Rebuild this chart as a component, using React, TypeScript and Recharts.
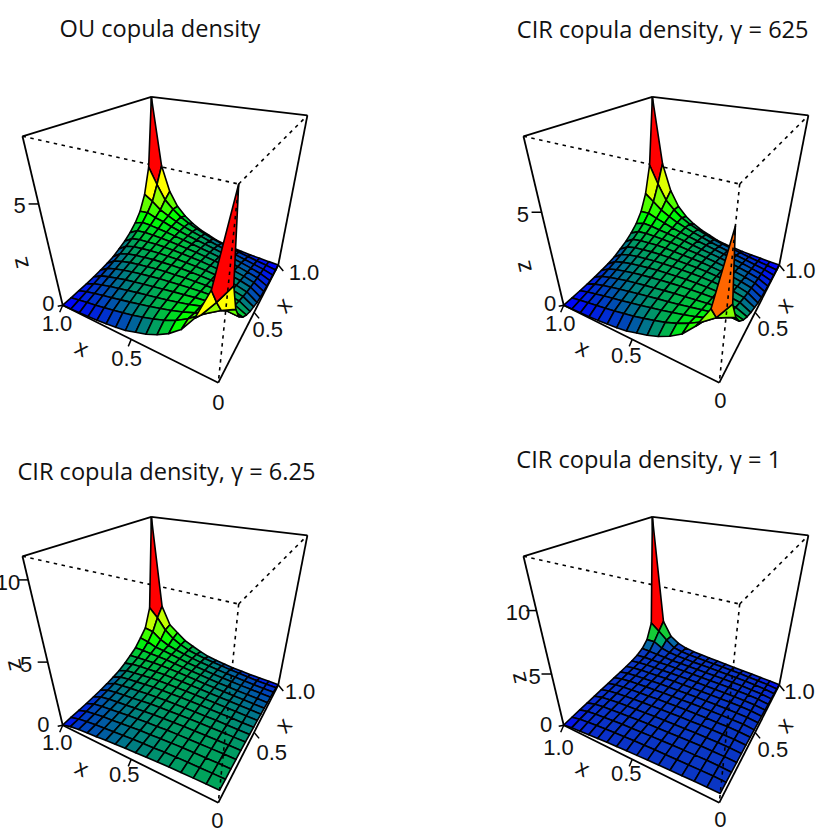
import { ScatterChart, Scatter, XAxis, YAxis } from 'recharts';

// surface heights, u index by row and v index by column
const ouZ = [
  [7.47, 4.00, 2.60, 1.80, 1.32, .98, .72, .54, .36, .26, .19, .13, .08, .05, .02, .00],
  [4.00, 3.10, 2.30, 1.85, 1.50, 1.25, 1.05, .88, .73, .61, .50, .40, .30, .21, .12, .02],
  [2.60, 2.30, 1.92, 1.68, 1.47, 1.30, 1.15, 1.02, .89, .77, .66, .55, .44, .33, .21, .05],
  [1.80, 1.85, 1.68, 1.58, 1.42, 1.30, 1.18, 1.08, .99, .89, .78, .68, .57, .44, .30, .08],
  [1.32, 1.50, 1.47, 1.42, 1.36, 1.28, 1.21, 1.13, 1.05, .97, .88, .79, .68, .55, .40, .13],
  [.98, 1.25, 1.30, 1.30, 1.28, 1.25, 1.21, 1.16, 1.11, 1.04, .97, .88, .78, .66, .50, .19],
  [.72, 1.05, 1.15, 1.18, 1.21, 1.21, 1.20, 1.17, 1.14, 1.10, 1.04, .97, .89, .77, .61, .26],
  [.54, .88, 1.02, 1.08, 1.13, 1.16, 1.17, 1.17, 1.16, 1.14, 1.11, 1.05, .99, .89, .73, .36],
  [.36, .73, .89, .99, 1.05, 1.11, 1.14, 1.16, 1.17, 1.17, 1.16, 1.13, 1.08, 1.02, .88, .54],
  [.26, .61, .77, .89, .97, 1.04, 1.10, 1.14, 1.17, 1.20, 1.21, 1.21, 1.18, 1.15, 1.05, .72],
  [.19, .50, .66, .78, .88, .97, 1.04, 1.11, 1.16, 1.21, 1.25, 1.28, 1.30, 1.30, 1.25, .98],
  [.13, .40, .55, .68, .79, .88, .97, 1.05, 1.13, 1.21, 1.28, 1.36, 1.42, 1.47, 1.50, 1.32],
  [.08, .30, .44, .57, .68, .78, .89, .99, 1.08, 1.18, 1.30, 1.42, 1.58, 1.68, 1.85, 1.80],
  [.05, .21, .33, .44, .55, .66, .77, .89, 1.02, 1.15, 1.30, 1.47, 1.68, 1.92, 2.30, 2.60],
  [.02, .12, .21, .30, .40, .50, .61, .73, .88, 1.05, 1.25, 1.50, 1.85, 2.30, 3.10, 4.00],
  [.00, .02, .05, .08, .13, .19, .26, .36, .54, .72, .98, 1.32, 1.80, 2.60, 4.00, 7.47],
];

const cir625Z = [
  [6.80, 3.50, 2.40, 1.70, 1.27, .95, .71, .54, .36, .26, .19, .13, .08, .05, .02, .00],
  [3.50, 2.60, 2.10, 1.75, 1.45, 1.22, 1.04, .88, .73, .61, .50, .40, .30, .21, .12, .02],
  [2.40, 2.10, 1.80, 1.60, 1.43, 1.28, 1.14, 1.02, .89, .77, .66, .55, .44, .33, .21, .05],
  [1.70, 1.75, 1.60, 1.50, 1.38, 1.27, 1.17, 1.08, .99, .89, .78, .68, .57, .44, .30, .08],
  [1.27, 1.45, 1.43, 1.38, 1.32, 1.26, 1.20, 1.13, 1.05, .97, .88, .79, .68, .55, .40, .13],
  [.95, 1.22, 1.28, 1.27, 1.26, 1.24, 1.21, 1.16, 1.11, 1.04, .97, .88, .78, .66, .50, .19],
  [.71, 1.04, 1.14, 1.17, 1.20, 1.21, 1.20, 1.17, 1.14, 1.10, 1.04, .97, .89, .77, .61, .26],
  [.54, .88, 1.02, 1.08, 1.13, 1.16, 1.17, 1.17, 1.16, 1.14, 1.11, 1.05, .99, .89, .73, .37],
  [.36, .73, .89, .99, 1.05, 1.11, 1.14, 1.16, 1.17, 1.17, 1.16, 1.14, 1.09, 1.03, .90, .56],
  [.26, .61, .77, .89, .97, 1.04, 1.10, 1.14, 1.17, 1.20, 1.22, 1.23, 1.20, 1.17, 1.08, .75],
  [.19, .50, .66, .78, .88, .97, 1.04, 1.11, 1.16, 1.22, 1.27, 1.30, 1.32, 1.34, 1.29, 1.02],
  [.13, .40, .55, .68, .79, .88, .97, 1.05, 1.14, 1.23, 1.30, 1.37, 1.44, 1.52, 1.56, 1.38],
  [.08, .30, .44, .57, .68, .78, .89, .99, 1.09, 1.20, 1.32, 1.44, 1.60, 1.76, 1.95, 1.92],
  [.05, .21, .33, .44, .55, .66, .77, .89, 1.03, 1.17, 1.34, 1.52, 1.76, 2.04, 2.45, 2.84],
  [.02, .12, .21, .30, .40, .50, .61, .73, .90, 1.08, 1.29, 1.56, 1.95, 2.45, 3.36, 4.42],
  [.00, .02, .05, .08, .13, .19, .26, .37, .56, .75, 1.02, 1.38, 1.92, 2.84, 4.42, 8.02],
];

// the last two surfaces are symmetric in u and v, so only the lower triangle is listed
const cir6Lower = [
  [1.02],
  [1.00, .99],
  [.98, .98, .97],
  [.95, .96, .96, .96],
  [.93, .94, .95, .95, .95],
  [.89, .91, .93, .94, .95, .95],
  [.83, .85, .89, .92, .93, .94, .96],
  [.77, .80, .85, .88, .91, .94, .96, .98],
  [.72, .76, .81, .85, .89, .93, .96, .99, 1.02],
  [.65, .69, .75, .79, .84, .89, .94, .99, 1.04, 1.08],
  [.58, .62, .68, .74, .79, .85, .91, .98, 1.05, 1.12, 1.18],
  [.50, .55, .60, .66, .72, .78, .86, .95, 1.03, 1.12, 1.22, 1.32],
  [.44, .48, .55, .60, .67, .74, .82, .90, 1.00, 1.10, 1.24, 1.38, 1.52],
  [.36, .40, .46, .53, .60, .67, .76, .86, .96, 1.09, 1.24, 1.42, 1.62, 1.95],
  [.24, .28, .34, .42, .50, .58, .68, .78, .90, 1.04, 1.22, 1.50, 1.90, 2.50, 3.45],
  [.02, .07, .10, .15, .21, .28, .38, .50, .65, .90, 1.20, 1.53, 2.08, 2.65, 4.18, 11.2],
];

const cir1Lower = [
  [.92],
  [.90, .93],
  [.87, .92, .94],
  [.84, .90, .93, .94],
  [.80, .88, .92, .93, .94],
  [.76, .86, .90, .92, .93, .93],
  [.72, .83, .88, .90, .92, .93, .93],
  [.67, .80, .85, .88, .90, .92, .93, .93],
  [.62, .76, .82, .86, .88, .90, .92, .93, .93],
  [.56, .71, .78, .82, .85, .88, .90, .92, .93, .94],
  [.50, .65, .73, .78, .82, .85, .87, .90, .92, .93, .96],
  [.42, .58, .67, .73, .78, .82, .85, .88, .90, .92, .95, .99],
  [.34, .50, .60, .67, .73, .77, .81, .84, .87, .90, .94, .98, 1.06],
  [.26, .42, .52, .60, .66, .71, .76, .80, .84, .88, .94, 1.00, 1.12, 1.36],
  [.16, .30, .40, .48, .56, .62, .68, .73, .78, .84, .90, 1.00, 1.20, 1.85, 2.63],
  [.02, .10, .18, .25, .32, .40, .47, .54, .62, .70, .80, .95, 1.25, 1.84, 3.35, 13.5],
];

const titles = ['OU copula density', 'CIR copula density, γ = 625', 'CIR copula density, γ = 6.25', 'CIR copula density, γ = 1'];
const xyTicks = [0, 0.5, 1];
const xyTickLabels = ['0', '0.5', '1.0'];
const zTicksLow = [0, 5];
const zTicksHigh = [0, 5, 10];

const mirror = (lower: number[][]) =>
  lower.map((row, i) => [...row, ...lower.slice(i + 1).map((r) => r[i])]);

// camera: vanishing points of the three box directions, and the near bottom corner
const NEAR = [218.3, 382.7];
const VU = [-514, 18];
const VV = [403, 20];
const VZ = [177, 785];
const AU = 0.2698;
const AV = 0.481;
const AZ = -0.3306;

function project(u: number, v: number, t: number) {
  const w = 1 + AU * u + AV * v + AZ * t;
  return {
    px: (NEAR[0] + AU * u * VU[0] + AV * v * VV[0] + AZ * t * VZ[0]) / w,
    py: (NEAR[1] + AU * u * VU[1] + AV * v * VV[1] + AZ * t * VZ[1]) / w,
  };
}

function rampColor(stops: [number, string][], value: number) {
  const hex = (c: string) => [1, 3, 5].map((k) => parseInt(c.slice(k, k + 2), 16));
  if (value >= stops[stops.length - 1][0]) return stops[stops.length - 1][1];
  let k = 0;
  while (stops[k + 1][0] < value) k += 1;
  const f = (value - stops[k][0]) / (stops[k + 1][0] - stops[k][0]);
  const a = hex(stops[k][1]);
  const b = hex(stops[k + 1][1]);
  return `rgb(${a.map((c, n) => Math.round(c + (b[n] - c) * f)).join(',')})`;
}

const PANELS = [
  {
    left: 0, top: 0, z: ouZ, zMax: 7.47, zTicks: zTicksLow, title: titles[0], titleAt: [160, 28],
    stops: [[0, '#0000ff'], [1.6, '#00ff00'], [3.0, '#ffff00'], [4.4, '#ff0000']],
    zNudge: [[-14.4, -2], [-19, 2]], uNudge: [[0, 20], [-4.6, 19], [-5.7, 18]], vNudge: [[17, 16], [13.6, 17.6], [25.7, 8]],
    zTitleAt: [20, 263],
  },
  {
    left: 500.8, top: 0, z: cir625Z, zMax: 8.02, zTicks: zTicksLow, title: titles[1], titleAt: [161.7, 29],
    stops: [[0, '#0000ff'], [1.75, '#00ff00'], [3.5, '#ffff00'], [4.5, '#ff0000']],
    zNudge: [[-13.7, -2], [-18.6, 2.7]], uNudge: [[1, 18], [-6, 16], [-3.5, 18]], vNudge: [[17, 16], [17.8, 16], [21, 5.6]],
    zTitleAt: [22, 266.7],
  },
  {
    left: 0, top: 420.4, z: mirror(cir6Lower), zMax: 11.2, zTicks: zTicksHigh, title: titles[2], titleAt: [166.5, 50.6],
    stops: [[0, '#0000ff'], [1.0, '#00a55a'], [1.9, '#00ff00'], [3.6, '#ffff00'], [5.5, '#ff0000']],
    zNudge: [[-19.4, -1], [-21.6, 2.7], [-20, 2.3]], uNudge: [[-1, 17.6], [-7, 15.3], [-5.4, 17.6]], vNudge: [[17, 16], [17.6, 20.6], [21.7, 7]],
    zTitleAt: [13, 245.3],
  },
  {
    left: 500.8, top: 420.4, z: mirror(cir1Lower), zMax: 13.5, zTicks: zTicksHigh, title: titles[3], titleAt: [147.7, 38.6],
    stops: [[0, '#0000ff'], [0.3, '#0a28d2'], [0.6, '#0a32c8'], [1.3, '#0a3cc0'], [1.75, '#008c8c'], [2.2, '#00dc3c'], [5, '#ff0000']],
    zNudge: [[-17.7, -1], [-17, 2.7], [-18.5, 1.7]], uNudge: [[1, 17], [-6, 14.3], [-5.2, 22]], vNudge: [[17, 16], [17.8, 17.2], [20.2, 6.2]],
    zTitleAt: [17, 258],
  },
];

const segmentDrawer = (dash?: string, width = 1.8) => (props: any) => {
  const out: any[] = [];
  for (let k = 0; k + 1 < props.points.length; k += 2) {
    const a = props.points[k];
    const b = props.points[k + 1];
    out.push(<line key={k} x1={a.x} y1={a.y} x2={b.x} y2={b.y} stroke="#000" strokeWidth={width} strokeDasharray={dash} />);
  }
  return <g>{out}</g>;
};

const Hidden = () => <g />;

function TextMark(props: any) {
  const { cx, cy, payload } = props;
  return (
    <text
      x={cx}
      y={cy}
      textAnchor="middle"
      dominantBaseline="central"
      fontFamily={payload.title ? '"Open Sans", sans-serif' : '"Liberation Sans", Arial, sans-serif'}
      fontSize={payload.title ? 23.6 : payload.axis ? 23 : 22}
      transform={payload.rotate ? `rotate(${payload.rotate} ${cx} ${cy})` : undefined}
      fill="#111"
    >
      {payload.text}
    </text>
  );
}

function Panel({ cfg }: { cfg: (typeof PANELS)[number] }) {
  const n = cfg.z.length - 1;
  const at = (i: number, j: number) => project(i / n, j / n, cfg.z[i][j] / cfg.zMax);

  // far cells first, so nearer cells paint over them
  const corners: any[] = [];
  const fills: string[] = [];
  for (let i = n - 1; i >= 0; i--) {
    for (let j = n - 1; j >= 0; j--) {
      corners.push(at(i, j), at(i + 1, j), at(i + 1, j + 1), at(i, j + 1));
      const mean = (cfg.z[i][j] + cfg.z[i + 1][j] + cfg.z[i + 1][j + 1] + cfg.z[i][j + 1]) / 4;
      fills.push(rampColor(cfg.stops as [number, string][], mean));
    }
  }
  const drawCells = (props: any) => {
    const cells: any[] = [];
    for (let k = 0; k < fills.length; k++) {
      const pts = props.points.slice(k * 4, k * 4 + 4).map((p: any) => `${p.x},${p.y}`).join(' ');
      cells.push(<polygon key={k} points={pts} fill={fills[k]} stroke="#000" strokeWidth={1.6} strokeLinejoin="round" />);
    }
    return <g>{cells}</g>;
  };

  const c = (u: number, v: number, t: number) => project(u, v, t);
  const dashedTop = [c(1, 0, 1), c(0, 0, 1), c(0, 0, 1), c(0, 1, 1)];
  const dashedFront = [c(0, 0, 1), c(0, 0, 0)];
  const backEdges = [c(1, 1, 1), c(1, 1, 0.35)];
  const solidEdges = [
    c(1, 0, 1), c(1, 1, 1), c(1, 1, 1), c(0, 1, 1),
    c(1, 0, 1), c(1, 0, 0), c(0, 1, 1), c(0, 1, 0),
    c(1, 0, 0), c(0, 0, 0), c(0, 0, 0), c(0, 1, 0),
  ];

  const shift = (p: { px: number; py: number }, dx: number, dy: number) => ({ px: p.px + dx, py: p.py + dy });
  const tickMarks: any[] = [];
  const labels: any[] = [];
  xyTicks.forEach((tick, k) => {
    const pu = c(tick, 0, 0);
    if (tick > 0) tickMarks.push(pu, shift(pu, -3, 7));
    labels.push({ ...shift(pu, cfg.uNudge[k][0], cfg.uNudge[k][1]), text: xyTickLabels[k] });
    if (tick > 0) {
      const pv = c(0, tick, 0);
      tickMarks.push(pv, shift(pv, 5, 6));
      labels.push({ ...shift(pv, cfg.vNudge[k][0], cfg.vNudge[k][1]), text: xyTickLabels[k] });
    }
  });
  cfg.zTicks.forEach((tick, k) => {
    const pz = c(1, 0, tick / cfg.zMax);
    tickMarks.push(pz, shift(pz, tick === 0 ? -5 : -10, tick === 0 ? 1 : 0));
    labels.push({ ...shift(pz, cfg.zNudge[k][0], cfg.zNudge[k][1]), text: String(tick) });
  });
  labels.push({ px: 82, py: 348, text: 'x', rotate: 27, axis: true });
  labels.push({ px: 283.3, py: 305, text: 'x', rotate: -50, axis: true });
  labels.push({ px: cfg.zTitleAt[0], py: cfg.zTitleAt[1], text: 'z', rotate: -103, axis: true });
  labels.push({ px: cfg.titleAt[0], py: cfg.titleAt[1], text: cfg.title, title: true });

  return (
    <div style={{ position: 'absolute', left: cfg.left, top: cfg.top }}>
      <ScatterChart width={329} height={415} margin={{ top: 0, right: 0, bottom: 0, left: 0 }} style={{ overflow: 'visible' }}>
        <XAxis type="number" dataKey="px" domain={[0, 329]} hide />
        <YAxis type="number" dataKey="py" domain={[0, 415]} reversed hide />
        <Scatter data={dashedTop} line={segmentDrawer('3.5 4.5', 1.6)} shape={Hidden} isAnimationActive={false} />
        <Scatter data={backEdges} line={segmentDrawer()} shape={Hidden} isAnimationActive={false} />
        <Scatter data={corners} line={drawCells} shape={Hidden} isAnimationActive={false} />
        <Scatter data={dashedFront} line={segmentDrawer('3.5 4.5', 1.6)} shape={Hidden} isAnimationActive={false} />
        <Scatter data={solidEdges} line={segmentDrawer()} shape={Hidden} isAnimationActive={false} />
        <Scatter data={tickMarks} line={segmentDrawer(undefined, 1.5)} shape={Hidden} isAnimationActive={false} />
        <Scatter data={labels} shape={TextMark} isAnimationActive={false} />
      </ScatterChart>
    </div>
  );
}

export default function App() {
  return (
    <div style={{ position: 'absolute', left: 0, top: 0, width: 830, height: 830, overflow: 'hidden', background: '#fff' }}>
      {PANELS.map((cfg) => (
        <Panel key={cfg.title} cfg={cfg} />
      ))}
    </div>
  );
}
